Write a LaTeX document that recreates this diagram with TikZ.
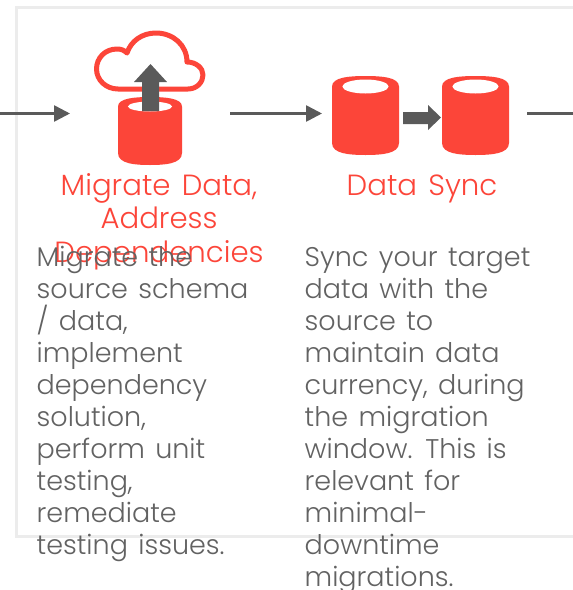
\documentclass[tikz,border=0pt]{standalone}
\usepackage{fontspec}
\setmainfont{Poppins}[UprightFont=* Light]
\newfontfamily\bodyface{Poppins}[UprightFont=* Light,WordSpace=1.7]
\newfontfamily\titleface{Poppins}[UprightFont=* Light,WordSpace=1.4]
\usetikzlibrary{arrows.meta}
\definecolor{redc}{HTML}{FC4539}
\definecolor{grayc}{HTML}{5A5A5A}
\definecolor{textc}{HTML}{626262}
\definecolor{framec}{HTML}{ECECEC}
\tikzset{
  x=1pt,y=-1pt,
  flow/.style={draw=grayc,line width=2.6pt,-{Triangle[length=16pt,width=16pt]}},
  flowend/.style={draw=grayc,line width=2.6pt},
  titletext/.style={text=redc,align=center,inner sep=0pt,anchor=base,font=\titleface\fontsize{29.2}{33.5}\selectfont},
  bodytext/.style={text=textc,align=left,inner sep=0pt,anchor=north west,font=\bodyface\fontsize{27}{32}\selectfont},
}
\newcommand{\dbicon}[7]{% cx, rx, top, sideTop, sideBottom, bottom, inner ry
  \fill[redc] (#1-#2,#4) .. controls (#1-#2,#3+1) and (#1-#2*0.45,#3) .. (#1,#3)
    .. controls (#1+#2*0.45,#3) and (#1+#2,#3+1) .. (#1+#2,#4)
    -- (#1+#2,#5) .. controls (#1+#2,#6-1) and (#1+#2*0.45,#6) .. (#1,#6)
    .. controls (#1-#2*0.45,#6) and (#1-#2,#6-1) .. (#1-#2,#5) -- cycle;
  \fill[white] (#1,#4) ellipse [x radius=#2*0.69,y radius=#7];
}
\begin{document}
\begin{tikzpicture}
\useasboundingbox (0,0) rectangle (573,590);
\fill[white] (0,0) rectangle (573,590);
\draw[framec,line width=3pt] (590,7) -- (16.5,7) -- (16.5,536.5) -- (590,536.5);
% coordinates
\coordinate (inL) at (0,113.5);
\coordinate (inR) at (70,113.5);
\coordinate (midL) at (230,113.5);
\coordinate (midR) at (322,113.5);
\coordinate (outL) at (527,113.5);
\coordinate (outR) at (573,113.5);
% connectors
\draw[flow] (inL) -- (inR);
\draw[flow] (midL) -- (midR);
\draw[flowend] (outL) -- (outR);
% cloud
\draw[redc,line width=5pt,line join=round] (118,89) -- (188,89)
  .. controls (197,89) and (203,82) .. (203,75)
  .. controls (203,68) and (196,62) .. (187,62)
  .. controls (187,45) and (173,33) .. (156,33)
  .. controls (142,33) and (131,41) .. (127,53)
  .. controls (124,50) and (121,49) .. (117,49)
  .. controls (105,49) and (96.500,58) .. (96.500,69)
  .. controls (96.500,80) and (106,89) .. (118,89) -- cycle;
% left db
\dbicon{150}{32}{97}{106.500}{153}{165}{5}
\fill[grayc] (142,111) -- (142,82) -- (134,82) -- (150.500,64) -- (167,82) -- (159,82) -- (159,111) -- cycle;
% right dbs
\dbicon{365.500}{33.500}{76}{86.500}{143}{155}{7}
\dbicon{475.500}{33.500}{76}{86.500}{143}{155}{7}
\fill[grayc] (403,112) -- (428,112) -- (428,105) -- (441,117.500) -- (428,130) -- (428,124) -- (403,124) -- cycle;
% text
\node[titletext] (t1) at (159,262) {Migrate Data,\\Address\\Dependencies};
\node[titletext] (t2) at (422,195) {Data Sync};
\node[bodytext] (b1) at (36.500,245.500) {Migrate the\\source schema\\/ data,\\implement\\dependency\\solution,\\perform unit\\testing,\\remediate\\testing issues.};
\node[bodytext] (b2) at (304.500,247.500) {Sync your target\\data with the\\source to\\maintain data\\currency, during\\the migration\\window. This is\\relevant for\\minimal-\\downtime\\migrations.};
\end{tikzpicture}
\end{document}
